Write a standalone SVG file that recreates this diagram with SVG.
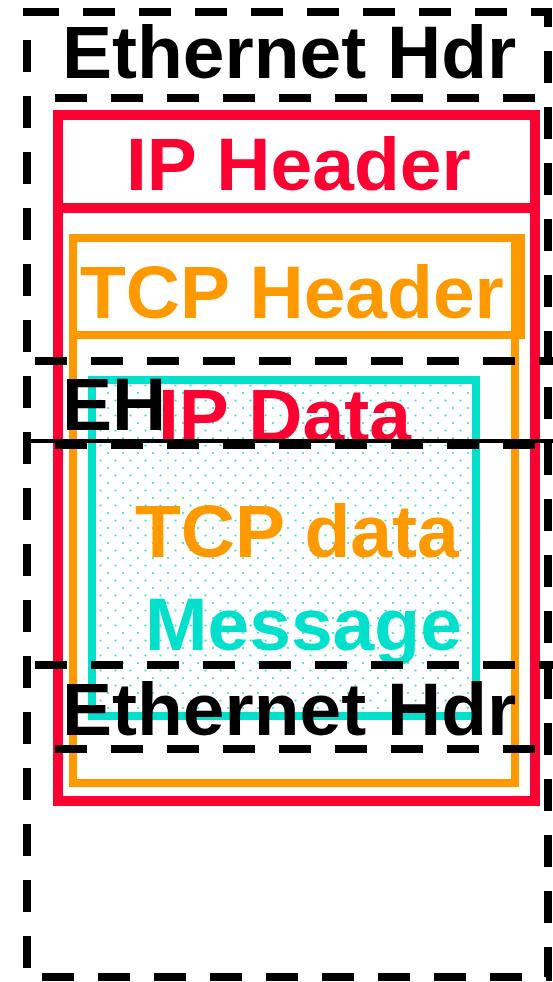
<svg xmlns="http://www.w3.org/2000/svg" width="553" height="982" viewBox="0 0 553 982">
<style>
.t{font-family:"Liberation Sans",Arial,sans-serif;font-weight:bold;font-size:75px}
.dash{fill:none;stroke:#000;stroke-width:8;stroke-dasharray:32 24}
</style>
<defs>
<pattern id="dots" width="15" height="15" patternUnits="userSpaceOnUse">
<circle cx="3" cy="3" r="1.1" fill="#33e0d0"/>
<circle cx="10.5" cy="10.5" r="1.1" fill="#33e0d0"/>
</pattern>
</defs>
<rect width="553" height="982" fill="#fff"/>
<g id="outer-ethernet">
<rect x="27" y="12" width="521" height="965" class="dash"/>
<text x="62" y="78" class="t" fill="#000">Ethernet Hdr</text>
<line x1="55" y1="98" x2="540" y2="98" class="dash"/>
</g>
<g id="ip">
<rect x="58" y="115" width="477" height="686" fill="none" stroke="#ff0033" stroke-width="10"/>
<line x1="58" y1="208" x2="535" y2="208" stroke="#ff0033" stroke-width="10"/>
<text x="126" y="190" class="t" fill="#ff0033">IP Header</text>
</g>
<g id="tcp">
<rect x="73" y="238" width="442" height="545" fill="none" stroke="#ff9900" stroke-width="8"/>
<rect x="73" y="238" width="448" height="97" fill="none" stroke="#ff9900" stroke-width="8"/>
<text x="80" y="318" class="t" fill="#ff9900">TCP Header</text>
</g>
<g id="message">
<rect x="92" y="380" width="384" height="336" fill="url(#dots)" stroke="#00e0cc" stroke-width="8"/>
<text x="145" y="650" class="t" fill="#00e0cc">Message</text>
</g>
<text x="158" y="441" class="t" fill="#ff0033">IP Data</text>
<text x="135" y="557" class="t" fill="#ff9900">TCP data</text>
<g id="eh">
<line x1="35" y1="361" x2="553" y2="361" class="dash"/>
<line x1="25" y1="441" x2="553" y2="441" stroke="#000" stroke-width="4"/>
<line x1="55" y1="445" x2="553" y2="445" class="dash"/>
<text x="62" y="430" class="t" fill="#000">EH</text>
</g>
<g id="inner-ethernet">
<line x1="35" y1="665" x2="553" y2="665" class="dash"/>
<text x="62" y="735" class="t" fill="#000">Ethernet Hdr</text>
<line x1="55" y1="749" x2="540" y2="749" class="dash"/>
</g>
</svg>
